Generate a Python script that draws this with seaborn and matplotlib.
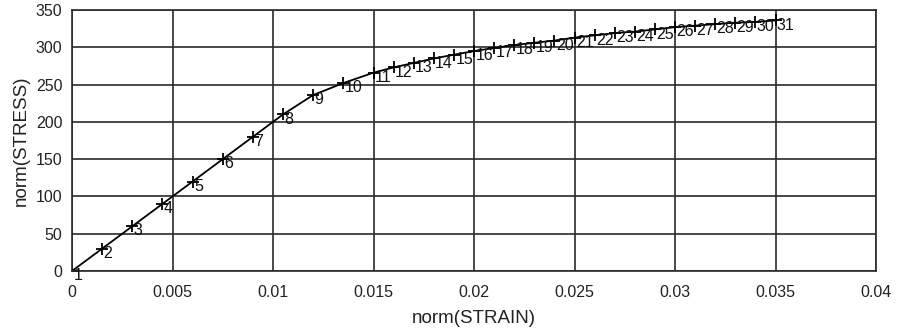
import matplotlib
matplotlib.use("Agg")
import matplotlib.pyplot as plt
import seaborn as sns
import pandas as pd

point_ids = list(range(1, 32))
strain = [0.0, 0.0015, 0.003, 0.0045, 0.006, 0.0075, 0.009, 0.0105, 0.012, 0.0135,
          0.015, 0.016, 0.017, 0.018, 0.019, 0.020, 0.021, 0.022, 0.023, 0.024,
          0.025, 0.026, 0.027, 0.028, 0.029, 0.030, 0.031, 0.032, 0.033, 0.034, 0.035]
stress = [0, 30, 60, 90, 120, 150, 180, 210, 236, 252,
          266, 273, 279, 285, 290, 295, 299, 303, 306, 309,
          313, 316, 319, 321, 324, 327, 329, 331, 333, 334, 336]
x_ticks = [0, 0.005, 0.01, 0.015, 0.02, 0.025, 0.03, 0.035, 0.04]
x_tick_labels = ["0", "0.005", "0.01", "0.015", "0.02", "0.025", "0.03", "0.035", "0.04"]
y_ticks = [0, 50, 100, 150, 200, 250, 300, 350]

df = pd.DataFrame({"strain": strain, "stress": stress, "id": point_ids})

sns.set_style("white")
plt.rcParams["font.family"] = ["Liberation Sans", "DejaVu Sans"]

fig = plt.figure(figsize=(8.98, 3.33), dpi=100)
ax = fig.add_axes([72 / 898, 1 - 271 / 333, (876 - 72) / 898, (271 - 10) / 333])

sns.lineplot(data=df, x="strain", y="stress", ax=ax, color="black", lw=1.3,
             marker="+", markersize=9, markeredgewidth=1.3, markeredgecolor="black",
             sort=False, estimator=None)

for xi, yi, lab in zip(strain, stress, point_ids):
    ax.annotate(str(lab), (xi, yi), xytext=(1.0, 2.0), textcoords="offset points",
                ha="left", va="top", fontsize=11.5, color="#111111")

ax.set_xlim(0, 0.04)
ax.set_ylim(0, 350)
ax.set_xticks(x_ticks)
ax.set_xticklabels(x_tick_labels)
ax.set_yticks(y_ticks)
ax.grid(True, color="#2a2a2a", lw=1.2)
for s in ax.spines.values():
    s.set_color("#2a2a2a")
    s.set_linewidth(1.2)
ax.tick_params(axis="both", labelsize=11.5, length=3, color="#333333", labelcolor="#222222")
ax.tick_params(axis="x", pad=7)
ax.tick_params(axis="y", pad=4)
ax.set_xlabel("norm(STRAIN)", fontsize=13.5, color="#222222", labelpad=7)
ax.set_ylabel("norm(STRESS)", fontsize=13.5, color="#222222", labelpad=4)

fig.savefig("out.png", dpi=100)
